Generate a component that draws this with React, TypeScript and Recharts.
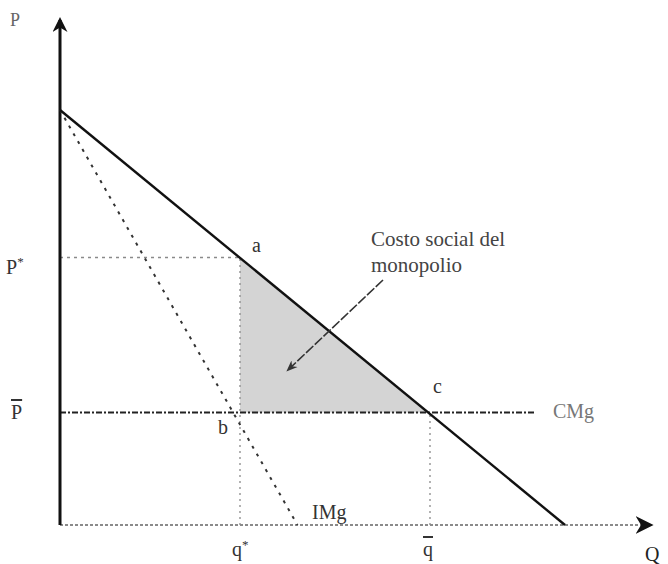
import React from "react";
import { ComposedChart, Line, Area, XAxis, YAxis, ReferenceLine } from "recharts";

// Demand (P) curve endpoints: price intercept and quantity intercept
const demandPoints = [
  { q: 0, p: 83 },
  { q: 101, p: 0 },
];
// Marginal revenue (IMg)
const mrPoints = [
  { q: 0, p: 83 },
  { q: 47.5, p: 0 },
];
// Key equilibrium values
const pStar = 53.5;
const pBar = 22.5;
const qStar = 36;
const qBar = 74;
const cmgEnd = 95;
// Deadweight-loss triangle (a, b, c)
const deadweight = [
  { q: qStar, band: [pBar, pStar] },
  { q: qBar, band: [pBar, pBar] },
];
// Annotation arrow from the label to the triangle
const annotArrow = [
  { x: 64.6, y: 49 },
  { x: 45.6, y: 31 },
];
const axisMax = { q: 118, p: 101 };

const serif = "'Liberation Serif', 'DejaVu Serif', serif";

export default function App() {
  return (
    <div style={{ position: "absolute", left: 0, top: 0, width: 668, height: 564, background: "#fff" }}>
      <ComposedChart
        width={668}
        height={564}
        margin={{ top: 15, right: 8, left: 60, bottom: 39 }}
      >
        <defs>
          <marker id="arrBlack" viewBox="0 0 10 10" refX="8" refY="5" markerWidth="5" markerHeight="5" orient="auto" markerUnits="strokeWidth">
            <path d="M0,0 L10,5 L0,10 L3,5 z" fill="#111" />
          </marker>
          <marker id="arrX" viewBox="0 0 10 10" refX="8" refY="5" markerWidth="9" markerHeight="9" orient="auto" markerUnits="strokeWidth">
            <path d="M0,0 L10,5 L0,10 L3,5 z" fill="#111" />
          </marker>
          <marker id="arrAnn" viewBox="0 0 10 10" refX="8" refY="5" markerWidth="7" markerHeight="7" orient="auto" markerUnits="strokeWidth">
            <path d="M0,1 L10,5 L0,9 L3,5 z" fill="#333" />
          </marker>
        </defs>
        <XAxis type="number" dataKey="q" domain={[0, 120]} hide allowDuplicatedCategory={false} />
        <YAxis type="number" domain={[0, 102]} hide />

        <Area
          data={deadweight}
          dataKey="band"
          type="linear"
          stroke="none"
          fill="#d4d4d4"
          fillOpacity={1}
          isAnimationActive={false}
          activeDot={false}
        />

        {/* guide lines */}
        <ReferenceLine segment={[{ x: 0, y: pStar }, { x: qStar, y: pStar }]} stroke="#8a8a8a" strokeWidth={1.5} strokeDasharray="3 4" />
        <ReferenceLine segment={[{ x: qStar, y: 0 }, { x: qStar, y: pStar }]} stroke="#8a8a8a" strokeWidth={1.3} strokeDasharray="2 4" />
        <ReferenceLine segment={[{ x: qBar, y: 0 }, { x: qBar, y: pBar }]} stroke="#8a8a8a" strokeWidth={1.3} strokeDasharray="2 4" />
        <ReferenceLine segment={[{ x: 0, y: pBar }, { x: cmgEnd, y: pBar }]} stroke="#222" strokeWidth={2} strokeDasharray="6 2 2 2" />

        {/* axes */}
        <ReferenceLine segment={[{ x: 0, y: 0 }, { x: axisMax.q, y: 0 }]} stroke="#8a8a8a" strokeWidth={2} strokeDasharray="3 2" markerEnd="url(#arrX)" />
        <ReferenceLine segment={[{ x: 0, y: 0 }, { x: 0, y: axisMax.p }]} stroke="#111" strokeWidth={3} markerEnd="url(#arrBlack)" />

        <Line data={mrPoints} dataKey="p" type="linear" stroke="#333" strokeWidth={2} strokeDasharray="3 6" dot={false} activeDot={false} isAnimationActive={false} />
        <Line data={demandPoints} dataKey="p" type="linear" stroke="#111" strokeWidth={2.4} dot={false} activeDot={false} isAnimationActive={false} />

        <ReferenceLine segment={annotArrow} stroke="#333" strokeWidth={1.6} strokeDasharray="10 2" markerEnd="url(#arrAnn)" />

        <g fontFamily={serif} fill="#333">
          <text x={10} y={26} fontSize={18} fill="#666">P</text>
          <text x={6} y={274} fontSize={20}>P<tspan fontSize={13} dy={-8}>*</tspan></text>
          <text x={11} y={419} fontSize={20} textDecoration="overline">P</text>
          <text x={252} y={252} fontSize={20}>a</text>
          <text x={218} y={434} fontSize={20}>b</text>
          <text x={433} y={393} fontSize={20}>c</text>
          <text x={553} y={418} fontSize={20} fill="#777">CMg</text>
          <text x={312} y={519} fontSize={20}>IMg</text>
          <text x={232} y={556} fontSize={20}>q<tspan fontSize={13} dy={-7}>*</tspan></text>
          <text x={423} y={556} fontSize={20} textDecoration="overline">q</text>
          <text x={645} y={561} fontSize={20} fill="#222">Q</text>
          <text x={371} y={246} fontSize={21} fill="#444">Costo social del</text>
          <text x={371} y={272} fontSize={21} fill="#444">monopolio</text>
        </g>
      </ComposedChart>
    </div>
  );
}
